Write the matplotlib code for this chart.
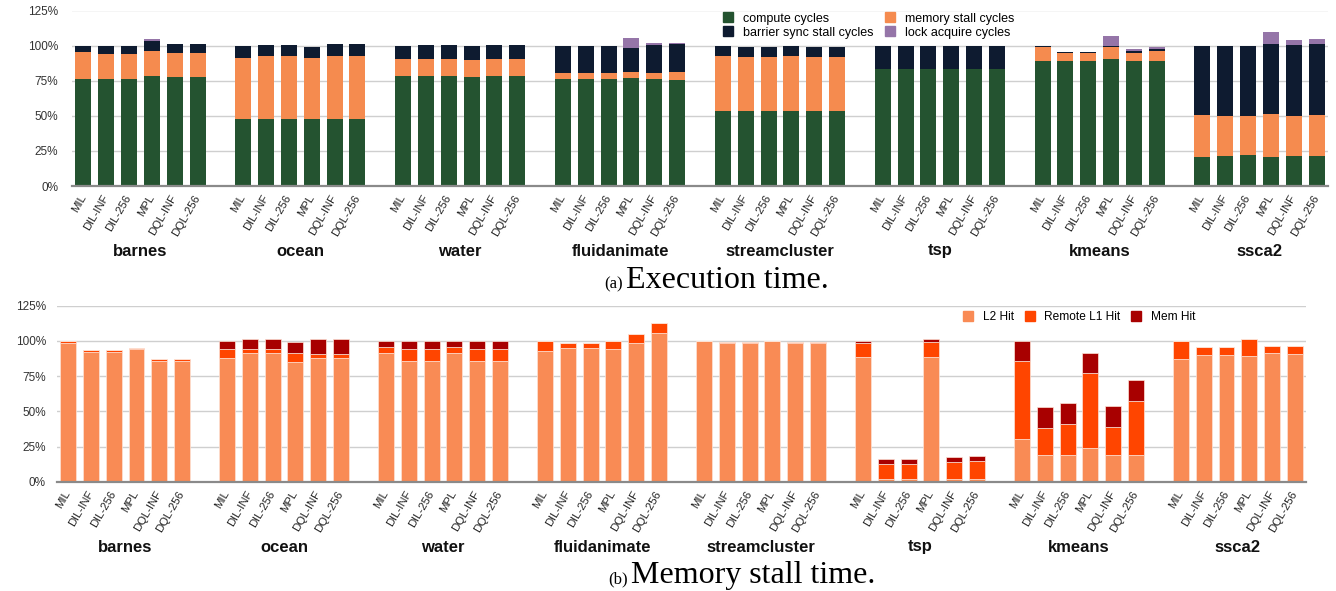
import matplotlib
matplotlib.use("Agg")
import matplotlib.pyplot as plt
import matplotlib.transforms as mtransforms
from matplotlib.patches import Patch
import numpy as np

plt.rcParams['font.family'] = ['Liberation Sans', 'DejaVu Sans']

benchmarks = ['barnes', 'ocean', 'water', 'fluidanimate', 'streamcluster', 'tsp', 'kmeans', 'ssca2']
configs = ['MIL', 'DIL-INF', 'DIL-256', 'MPL', 'DQL-INF', 'DQL-256']

# (a) Execution time, % of MIL (one row per benchmark, one value per config)
compute_cycles = [
    [76, 76, 76, 78, 77.5, 77.5],
    [47.8, 47.8, 47.8, 47.8, 47.6, 47.8],
    [78.4, 78.4, 78.4, 77.9, 78.4, 78.4],
    [76, 76, 76, 77, 76, 75.5],
    [53.7, 53.7, 53.7, 53.7, 53.7, 53.7],
    [83.4, 83.4, 83.4, 83.4, 83.4, 83.4],
    [89.3, 89.3, 89.3, 90.3, 89.3, 89.3],
    [20.9, 21.4, 21.9, 20.9, 21.4, 21.4],
]
memory_stall_cycles = [
    [19.3, 18, 18, 18.4, 17.1, 17.1],
    [43.7, 45.1, 45.1, 43.2, 45.3, 45.1],
    [12.1, 12.1, 12.1, 12.1, 12.3, 12.1],
    [4.5, 4.5, 4.5, 4.3, 4.8, 5.5],
    [39.2, 38.5, 38.5, 38.9, 38.5, 38.5],
    [0, 0, 0, 0, 0, 0],
    [9.5, 5.3, 5.7, 8.5, 5.7, 7.1],
    [29.7, 28.5, 28, 30.4, 28.5, 29.2],
]
barrier_sync_stall_cycles = [
    [4.7, 6, 6, 6.6, 6.8, 6.8],
    [8.5, 7.6, 7.6, 8.3, 8.1, 8.1],
    [9.5, 10, 10, 9.5, 10, 10],
    [19.5, 19.5, 19.5, 16.8, 19.9, 20],
    [6.9, 6.6, 6.6, 7.2, 6.6, 6.6],
    [16.6, 16.6, 16.6, 16.6, 16.6, 16.6],
    [1.0, 0.9, 0.6, 0.7, 1.2, 1.3],
    [49.4, 50.1, 50.1, 49.7, 50.6, 50.6],
]
lock_acquire_cycles = [
    [0, 0, 0, 1.8, 0, 0],
    [0, 0, 0, 0, 0, 0],
    [0, 0, 0, 0, 0, 0],
    [0, 0, 0, 7.6, 1.0, 0.7],
    [0, 0, 0, 0, 0, 0],
    [0, 0, 0, 0, 0, 0],
    [0, 0, 0, 7.5, 1.2, 1.6],
    [0, 0, 0, 8.5, 3.8, 3.8],
]

# (b) Memory stall time, % of MIL
l2_hit = [
    [98.5, 92.1, 92.1, 94, 86, 86],
    [87.9, 91.6, 91.6, 85, 88.1, 88.2],
    [91.2, 85.7, 85.7, 91.4, 85.7, 85.7],
    [92.8, 94.7, 94.7, 94, 98.7, 105.6],
    [99.7, 98.7, 98.7, 99.7, 98.7, 98.7],
    [88.3, 1.7, 1.7, 88.5, 1.7, 1.7],
    [30.3, 19.2, 19.2, 23.7, 19.2, 19.2],
    [87.1, 89.8, 89.8, 89.6, 91.4, 90.9],
]
remote_l1_hit = [
    [1.2, 1.7, 1.7, 0.9, 1.1, 1.1],
    [6.6, 2.4, 2.4, 6.6, 2.6, 2.5],
    [4.2, 8.3, 8.3, 4.0, 8.6, 8.6],
    [6.9, 3.6, 3.6, 6.1, 6.4, 7.1],
    [0.3, 0.3, 0.3, 0.3, 0.3, 0.3],
    [10.2, 11.1, 11.1, 10.5, 12.3, 12.8],
    [55.4, 18.7, 22.0, 53.7, 19.9, 38.1],
    [12.6, 5.6, 5.6, 12.0, 4.8, 5.7],
]
mem_hit = [
    [0, 0, 0, 0, 0, 0],
    [5.2, 7.1, 7.1, 7.4, 10.4, 10.6],
    [4.3, 6.2, 6.2, 4.6, 5.9, 5.9],
    [0, 0, 0, 0, 0, 0],
    [0, 0, 0, 0, 0, 0],
    [1.2, 3.3, 3.3, 2.1, 3.5, 3.5],
    [14.0, 14.9, 14.9, 13.8, 14.9, 14.9],
    [0, 0, 0, 0, 0, 0],
]

top_series = [
    ('compute cycles', compute_cycles, '#245330'),
    ('memory stall cycles', memory_stall_cycles, '#F58B4F'),
    ('barrier sync stall cycles', barrier_sync_stall_cycles, '#0E1B30'),
    ('lock acquire cycles', lock_acquire_cycles, '#9575A8'),
]
bot_series = [
    ('L2 Hit', l2_hit, '#F98B55'),
    ('Remote L1 Hit', remote_l1_hit, '#FF4500'),
    ('Mem Hit', mem_hit, '#A80000'),
]

W, H = 1336, 591
fig = plt.figure(figsize=(W / 100, H / 100), dpi=100)

ngroup = len(benchmarks)
ncfg = len(configs)
slot = ncfg + 1
x = np.array([g * slot + i for g in range(ngroup) for i in range(ncfg)], dtype=float)
xlabels = configs * ngroup
group_centers = [g * slot + (ncfg - 1) / 2 for g in range(ngroup)]


def panel(rect, series, ypad, caption_y, caption_x, caption_tag, caption_text, group_y, edge):
    ax = fig.add_axes(rect)
    bottom = np.zeros(len(x))
    for name, data, color in series:
        vals = np.array(data, dtype=float).ravel()
        ax.bar(x, vals, width=0.7, bottom=bottom, color=color, label=name,
               edgecolor=edge, linewidth=0.5 if edge != 'none' else 0, zorder=3)
        bottom += vals
    ax.set_xlim(-0.5, x[-1] + 0.5)
    ax.set_ylim(0, 125)
    ax.set_yticks([0, 25, 50, 75, 100, 125])
    ax.set_yticklabels(['0%', '25%', '50%', '75%', '100%', '125%'])
    ax.yaxis.grid(True, color='#cfcfcf', linewidth=1.0, zorder=0)
    ax.set_axisbelow(True)
    for s in ['top', 'right', 'left']:
        ax.spines[s].set_visible(False)
    ax.spines['bottom'].set_color('#8a8a8a')
    ax.spines['bottom'].set_linewidth(1.6)
    ax.spines['bottom'].set_zorder(4)
    ax.tick_params(axis='y', length=0, pad=ypad, labelsize=8.5, labelcolor='#333333')
    ax.set_xticks(x)
    ax.set_xticklabels(xlabels, rotation=60, ha='right', va='center',
                       rotation_mode='anchor', fontsize=8.2, color='#222222')
    ax.tick_params(axis='x', length=0, pad=7)
    trans = mtransforms.blended_transform_factory(ax.transData, fig.transFigure)
    for gc, name in zip(group_centers, benchmarks):
        ax.text(gc, group_y, name, transform=trans, ha='center', va='center',
                fontsize=12, fontweight='bold', color='#111111')
    fig.text(caption_x, caption_y, caption_tag, ha='right', va='baseline',
             family='Liberation Serif', fontsize=12)
    fig.text(caption_x + 0.002, caption_y, caption_text, ha='left', va='baseline',
             family='Liberation Serif', fontsize=23)
    return ax


ax1 = panel([72 / W, 1 - 186 / H, (1328 - 72) / W, (186 - 10.5) / H], top_series, 10,
            1 - 288 / H, 623 / W, '(a)', 'Execution time.', 1 - 251 / H, 'none')
ax2 = panel([57 / W, 1 - 481.7 / H, (1306 - 57) / W, (481.7 - 305.7) / H], bot_series, 8,
            1 - 583 / H, 628 / W, '(b)', 'Memory stall time.', 1 - 547 / H, '#fde3d6')

h1 = [Patch(color=c) for _, _, c in top_series]
l1 = [n for n, _, _ in top_series]
order = [0, 2, 1, 3]
fig.legend([h1[i] for i in order], [l1[i] for i in order], ncol=2,
           loc='center left', bbox_to_anchor=(723 / W, 1 - 25.5 / H), frameon=False,
           fontsize=9, handlelength=0.8, handleheight=0.8, handletextpad=0.8,
           columnspacing=0.9, labelspacing=0.15, borderaxespad=0, borderpad=0)

h2 = [Patch(color=c) for _, _, c in bot_series]
l2 = [n for n, _, _ in bot_series]
fig.legend(h2, l2, ncol=3, loc='center left', bbox_to_anchor=(963 / W, 1 - 317 / H),
           frameon=False, fontsize=8.6, handlelength=0.85, handleheight=0.85,
           handletextpad=0.8, columnspacing=0.9, borderaxespad=0, borderpad=0)

fig.savefig('out.png', dpi=100)
